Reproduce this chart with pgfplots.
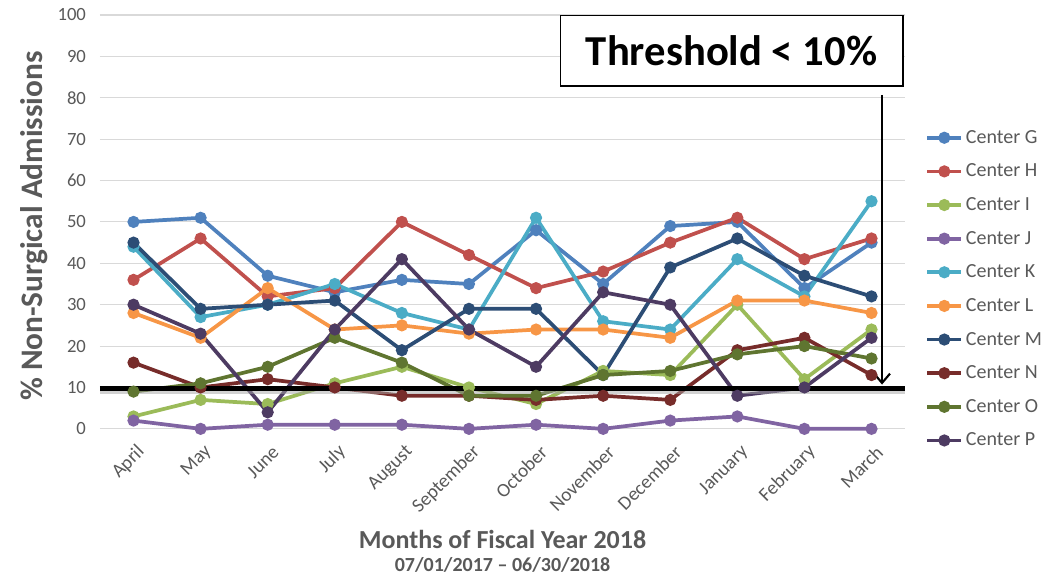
\documentclass[border=0pt]{standalone}
\usepackage{pgfplots}
\pgfplotsset{compat=1.18}
\usepackage{pgfplotstable}
\usepackage{fontspec}
\setmainfont{Carlito}
\usetikzlibrary{arrows.meta}

\definecolor{cG}{HTML}{4F81BD}
\definecolor{cH}{HTML}{C0504D}
\definecolor{cI}{HTML}{9BBB59}
\definecolor{cJ}{HTML}{8064A2}
\definecolor{cK}{HTML}{4BACC6}
\definecolor{cL}{HTML}{F79646}
\definecolor{cM}{HTML}{2C4D75}
\definecolor{cN}{HTML}{772C2A}
\definecolor{cO}{HTML}{5F7530}
\definecolor{cP}{HTML}{4D3B62}
\definecolor{txt}{HTML}{595959}
\definecolor{grid}{HTML}{D9D9D9}

% month index, one column per center
\pgfplotstableread{
m  G  H  I  J  K  L  M  N  O  P
0  50 36 3  2  44 28 45 16 9  30
1  51 46 7  0  27 22 29 10 11 23
2  37 32 6  1  30 34 30 12 15 4
3  33 34 11 1  35 24 31 10 22 24
4  36 50 15 1  28 25 19 8  16 41
5  35 42 10 0  24 23 29 8  8  24
6  48 34 6  1  51 24 29 7  8  15
7  35 38 14 0  26 24 13 8  13 33
8  49 45 13 2  24 22 39 7  14 30
9  50 51 30 3  41 31 46 19 18 8
10 34 41 12 0  32 31 37 22 20 10
11 45 46 24 0  55 28 32 13 17 22
}\centers

\begin{document}
\begin{tikzpicture}
\useasboundingbox (-75pt,-113.25pt) rectangle (722.5pt,321.75pt);
\begin{axis}[
  scale only axis,
  width=604pt, height=310.5pt,
  xmin=-0.5, xmax=11.5,
  ymin=0, ymax=100,
  ytick={0,10,...,100},
  xtick={0,...,11},
  xticklabels={April,May,June,July,August,September,October,November,December,January,February,March},
  ymajorgrids,
  grid style={color=grid, line width=0.8pt},
  axis line style={draw=none},
  tick style={draw=none},
  /pgf/number format/assume math mode=true,
  yticklabel style={font=\fontsize{14}{16}\selectfont, text=txt, xshift=-7pt},
  xticklabel style={font=\fontsize{14.5}{16}\selectfont, text=txt, rotate=45, anchor=east, xshift=-3pt, yshift=-15pt},
  ylabel={\% Non-Surgical Admissions},
  ylabel style={at={(axis description cs:-0.082,0.49)}, anchor=center,
    font=\bfseries\fontsize{23.5}{26}\selectfont, text=txt},
  xlabel={{\fontsize{19.5}{21}\selectfont Months of Fiscal Year 2018}\\[5pt]{\fontsize{15}{17}\selectfont 07/01/2017 -- 06/30/2018}},
  xlabel style={at={(axis description cs:0.5,-0.296)}, anchor=center, align=center,
    font=\bfseries, text=txt},
  clip=false,
  every axis plot/.append style={line width=2.8pt, mark=*, mark size=3.1pt},
  legend style={draw=none, fill=none, at={(1.02,0.735)}, anchor=north west,
    font=\fontsize{15}{17}\selectfont, text=txt, row sep=10pt,
    cells={anchor=west}},
  legend image code/.code={\draw[#1, mark repeat=2, mark phase=2]
    plot coordinates {(0cm,0cm) (0.45cm,0cm) (0.9cm,0cm)};},
  legend cell align=left,
]
\addplot[color=cG] table[x=m, y=G] {\centers};
\addlegendentry{Center G}
\addplot[color=cH] table[x=m, y=H] {\centers};
\addlegendentry{Center H}
\addplot[color=cI] table[x=m, y=I] {\centers};
\addlegendentry{Center I}
\addplot[color=cJ] table[x=m, y=J] {\centers};
\addlegendentry{Center J}
\addplot[color=cK] table[x=m, y=K] {\centers};
\addlegendentry{Center K}
\addplot[color=cL] table[x=m, y=L] {\centers};
\addlegendentry{Center L}
\addplot[color=cM] table[x=m, y=M] {\centers};
\addlegendentry{Center M}
\addplot[color=cN] table[x=m, y=N] {\centers};
\addlegendentry{Center N}
\addplot[color=cO] table[x=m, y=O] {\centers};
\addlegendentry{Center O}
\addplot[color=cP] table[x=m, y=P] {\centers};
\addlegendentry{Center P}

% threshold line with a soft shadow
\draw[black!35, line width=3pt, opacity=0.5] (axis cs:-0.5,8.9) -- (axis cs:11.5,8.9);
\draw[black, line width=3.75pt] (axis cs:-0.5,9.7) -- (axis cs:11.5,9.7);
\draw[black, line width=1.6pt, -{Straight Barb[length=7pt,width=12pt,line width=1.6pt]}]
  (rel axis cs:0.9714,0.807) -- (rel axis cs:0.9714,0.107);
\node[draw=black, line width=1.1pt, fill=white, minimum width=257pt, minimum height=53pt,
  font=\bfseries\fontsize{32}{35}\selectfont]
  at (rel axis cs:0.7845,0.914) {Threshold < 10\%};
\end{axis}
\end{tikzpicture}
\end{document}
